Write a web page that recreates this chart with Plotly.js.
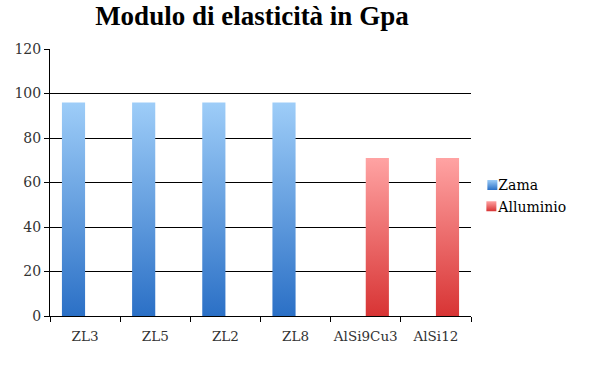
<!DOCTYPE html>
<html>
<head>
<meta charset="utf-8">
<script src="https://cdn.plot.ly/plotly-3.0.1.min.js"></script>
<style>html,body{margin:0;padding:0;background:#fff;}</style>
</head>
<body>
<div id="chart" style="width:607px;height:376px;"></div>
<script>
const categories = ["ZL3", "ZL5", "ZL2", "ZL8", "AlSi9Cu3", "AlSi12"];
const zamaValues = [96, 96, 96, 96, null, null];
const alluminioValues = [null, null, null, null, 71, 71];
const yTicks = [0, 20, 40, 60, 80, 100, 120];

const titleFont = "Liberation Serif, serif";
const labelFont = "DejaVu Serif, serif";

const traces = [
  {type: "bar", name: "Zama", x: categories, y: zamaValues,
   marker: {color: "#5FA0E6", line: {width: 0}}},
  {type: "bar", name: "Alluminio", x: categories, y: alluminioValues,
   marker: {color: "#F06A6A", line: {width: 0}}}
];

const layout = {
  width: 607, height: 376,
  margin: {l: 50, r: 136, t: 49, b: 60},
  paper_bgcolor: "#fff", plot_bgcolor: "#fff",
  barmode: "group", bargap: 0.34, bargroupgap: 0,
  title: {text: "<b>Modulo di elasticità in Gpa</b>", font: {family: titleFont, size: 27, color: "#000"},
          x: 0.415, xanchor: "center", y: 0.985, yanchor: "top"},
  xaxis: {type: "category", showline: true, linecolor: "#000", linewidth: 1,
          ticks: "outside", tickson: "boundaries", ticklen: 5, tickcolor: "#000",
          ticklabelstandoff: 8, tickangle: 0,
          tickfont: {family: labelFont, size: 13.5, color: "#333"}, showgrid: false, zeroline: false},
  yaxis: {range: [0, 120], tickvals: yTicks, showline: true, linecolor: "#000", linewidth: 1,
          ticks: "outside", ticklen: 5, tickcolor: "#000", showgrid: true, gridcolor: "#000", gridwidth: 1,
          tickfont: {family: labelFont, size: 14, color: "#333"}, zeroline: false, fixedrange: true},
  showlegend: true,
  legend: {x: 0.97, xanchor: "left", y: 0.45, yanchor: "middle", font: {family: labelFont, size: 14, color: "#000"},
           tracegroupgap: 0, bgcolor: "rgba(0,0,0,0)"},
  font: {family: labelFont}
};

Plotly.newPlot("chart", traces, layout, {staticPlot: true}).then(function (gd) {
  const svg = gd.querySelector("svg.main-svg");
  const ns = "http://www.w3.org/2000/svg";
  let defs = svg.querySelector("defs");
  if (!defs) { defs = document.createElementNS(ns, "defs"); svg.insertBefore(defs, svg.firstChild); }
  function grad(id, top, bottom) {
    const g = document.createElementNS(ns, "linearGradient");
    g.setAttribute("id", id);
    g.setAttribute("x1", "0"); g.setAttribute("y1", "0");
    g.setAttribute("x2", "0"); g.setAttribute("y2", "1");
    [[0, top], [1, bottom]].forEach(function (s) {
      const st = document.createElementNS(ns, "stop");
      st.setAttribute("offset", s[0]);
      st.setAttribute("stop-color", s[1]);
      g.appendChild(st);
    });
    defs.appendChild(g);
  }
  grad("gZama", "#9ECDF8", "#2B70C6");
  grad("gAll", "#FFA3A3", "#D83434");
  const ids = ["gZama", "gAll"];
  gd.querySelectorAll(".barlayer .trace").forEach(function (t, i) {
    t.querySelectorAll("path").forEach(function (p) { p.style.fill = "url(#" + ids[i] + ")"; });
  });
  gd.querySelectorAll(".legend .traces").forEach(function (t, i) {
    const txt = t.querySelector("text.legendtext");
    t.querySelectorAll(".legendpoints path").forEach(function (p) {
      p.style.fill = "url(#" + ids[i] + ")";
      p.setAttribute("d", "M-5,-5h10v10h-10Z");
      if (txt) {
        const tr = txt.getBoundingClientRect();
        const pr = p.getBoundingClientRect();
        const dx = (tr.left - 1 - 10) - pr.left;
        const prev = p.getAttribute("transform") || "";
        p.setAttribute("transform", "translate(" + dx + ",0) " + prev);
      }
    });
  });
});
</script>
</body>
</html>
